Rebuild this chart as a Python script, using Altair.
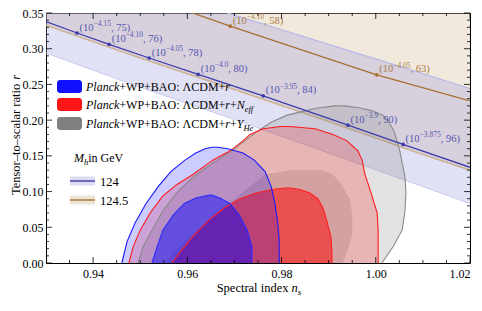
import altair as alt
import pandas as pd

FONT = "Liberation Serif"

# ---------------- data ----------------
x_major = [0.94, 0.96, 0.98, 1.00, 1.02]
x_minor = [0.935, 0.945, 0.95, 0.955, 0.965, 0.97, 0.975, 0.985, 0.99, 0.995, 1.005, 1.01, 1.015]
y_major = [0.00, 0.05, 0.10, 0.15, 0.20, 0.25, 0.30, 0.35]
y_minor = [0.01, 0.02, 0.03, 0.04, 0.06, 0.07, 0.08, 0.09, 0.11, 0.12, 0.13, 0.14,
           0.16, 0.17, 0.18, 0.19, 0.21, 0.22, 0.23, 0.24, 0.26, 0.27, 0.28, 0.29,
           0.31, 0.32, 0.33, 0.34]

# Higgs-inflation bands
band_ns = [0.93, 0.95, 0.97, 0.99, 1.01, 1.02]
band124_lo = [0.294, 0.246, 0.201, 0.154, 0.107, 0.083]
band124_hi = [0.430, 0.389, 0.347, 0.306, 0.265, 0.244]
band1245_lo = [0.333, 0.287, 0.243, 0.198, 0.152, 0.130]
band1245_hi = [0.480, 0.460, 0.440, 0.420, 0.400, 0.390]

# Higgs-inflation lines
blue_line_ns = [0.93, 0.9366, 0.9434, 0.9519, 0.9623, 0.9761, 0.9941, 1.0058, 1.02]
blue_line_r = [0.338, 0.322, 0.306, 0.287, 0.264, 0.234, 0.193, 0.166, 0.134]
blue_pt_ns = [0.9366, 0.9434, 0.9519, 0.9623, 0.9761, 0.9941, 1.0058]
blue_pt_r = [0.322, 0.306, 0.287, 0.264, 0.234, 0.193, 0.166]
blue_pt_exp = ["\u22124.15", "\u22124.10", "\u22124.05", "\u22124.0", "\u22123.95", "\u22123.9", "\u22123.875"]
blue_pt_mass = [75, 76, 78, 80, 84, 90, 96]

brown_line_ns = [0.959, 0.9691, 1.0002, 1.02]
brown_line_r = [0.355, 0.3315, 0.2635, 0.227]
brown_pt_ns = [0.9691, 1.0002]
brown_pt_r = [0.3315, 0.2635]
brown_pt_exp = ["\u22124.10", "\u22124.05"]
brown_pt_mass = [58, 63]

# Planck contours (r level, left ns, right ns)
b95_r = [0, 0.030, 0.056, 0.083, 0.107, 0.128, 0.144, 0.154, 0.160, 0.162]
b95_xl = [0.9461, 0.9472, 0.9489, 0.9512, 0.9538, 0.9565, 0.9595, 0.9618, 0.9638, 0.9652]
b95_xr = [0.9795, 0.9795, 0.9792, 0.9786, 0.9778, 0.9765, 0.9742, 0.9718, 0.9686, 0.9665]

b68_r = [0, 0.023, 0.046, 0.067, 0.083, 0.091, 0.095]
b68_xl = [0.9525, 0.9536, 0.9548, 0.9570, 0.9593, 0.9618, 0.9648]
b68_xr = [0.9737, 0.9737, 0.9727, 0.9710, 0.9691, 0.9669, 0.9652]

r95_r = [0, 0.023, 0.046, 0.070, 0.094, 0.110, 0.124, 0.144, 0.157, 0.171, 0.180, 0.188, 0.191]
r95_xl = [0.9476, 0.9485, 0.9500, 0.9521, 0.9548, 0.9578, 0.9612, 0.9654, 0.9691, 0.9718, 0.9733, 0.9761, 0.9797]
r95_xr = [1.0005, 1.0005, 1.0005, 1.0003, 0.9992, 0.9984, 0.9977, 0.9971, 0.9962, 0.9939, 0.9909, 0.9871, 0.9818]

r68_r = [0, 0.013, 0.036, 0.059, 0.077, 0.090, 0.098, 0.103, 0.105]
r68_xl = [0.9567, 0.9582, 0.9610, 0.9644, 0.9678, 0.9712, 0.9746, 0.9780, 0.9807]
r68_xr = [0.9907, 0.9907, 0.9905, 0.9896, 0.9888, 0.9877, 0.9860, 0.9839, 0.9818]

g95_r = [0, 0.023, 0.046, 0.073, 0.099, 0.120, 0.140, 0.157, 0.166, 0.184, 0.197, 0.207, 0.213, 0.217, 0.220]
g95_xl = [0.9495, 0.9506, 0.9525, 0.9548, 0.9578, 0.9612, 0.9654, 0.9695, 0.9712, 0.9748, 0.9778, 0.9812, 0.9850, 0.9877, 0.9913]
g95_xr = [1.0013, 1.0037, 1.0056, 1.0062, 1.0064, 1.0062, 1.0056, 1.0051, 1.0047, 1.0039, 1.0028, 1.0015, 0.9992, 0.9967, 0.9935]

g68_r = [0, 0.019, 0.040, 0.067, 0.090, 0.113, 0.124, 0.130]
g68_xl = [0.9553, 0.9576, 0.9610, 0.9654, 0.9701, 0.9744, 0.9765, 0.9818]
g68_xr = [0.9930, 0.9941, 0.9950, 0.9950, 0.9945, 0.9924, 0.9909, 0.9888]

legend_rows = [
    [("Planck", "italic", 12, 0), ("+WP+BAO: \u039bCDM+", "normal", 12, 0), ("r", "italic", 12, 0)],
    [("Planck", "italic", 12, 0), ("+WP+BAO: \u039bCDM+", "normal", 12, 0), ("r", "italic", 12, 0),
     ("+", "normal", 12, 0), ("N", "italic", 12, 0), ("eff", "italic", 8.5, 3)],
    [("Planck", "italic", 12, 0), ("+WP+BAO: \u039bCDM+", "normal", 12, 0), ("r", "italic", 12, 0),
     ("+", "normal", 12, 0), ("Y", "italic", 12, 0), ("He", "italic", 8.5, 3)],
]
legend_colors = ["#1010ff", "#ff1515", "#808080"]
mh_labels = ["124", "124.5"]

# ---------------- helpers ----------------
W = 424
H = 250
W_REG = {" ": 250, "(": 333, ")": 333, ",": 250, ".": 250, ":": 278, "+": 564, "\u2212": 564,
         "\u2013": 500, "A": 722, "B": 667, "C": 667, "D": 722, "G": 722, "M": 889, "O": 722,
         "P": 556, "S": 556, "T": 611, "V": 722, "W": 944, "\u039b": 722, "a": 444, "c": 444,
         "d": 500, "e": 444, "i": 278, "l": 278, "n": 500, "o": 500, "p": 500, "r": 333,
         "s": 389, "t": 278, "x": 500}
W_IT = {"P": 611, "l": 278, "a": 500, "n": 500, "c": 444, "k": 444, "r": 389, "N": 667,
        "Y": 556, "H": 722, "e": 444, "f": 278, "M": 833, "h": 500, "s": 389}


def tw(s, size, style):
    tab = W_IT if style == "italic" else W_REG
    return sum(tab.get(ch, 500) for ch in s) * size / 1000.0


XS = alt.Scale(domain=[0.93, 1.02], nice=False, zero=False)
YS = alt.Scale(domain=[0.0, 0.35], nice=False, zero=False)
X_AX = alt.Axis(values=x_major, format=".2f", labelFont=FONT, labelFontSize=12, labelColor="black",
                ticks=False, tickSize=0, domain=False, grid=False, labelPadding=5,
                labelFlush=True, labelOverlap=False, title=None)
Y_AX = alt.Axis(values=y_major, format=".2f", labelFont=FONT, labelFontSize=12, labelColor="black",
                ticks=False, tickSize=0, domain=False, grid=False, labelPadding=3,
                labelFlush=False, labelOverlap=False, title=None)


def xq(f):
    return alt.X(f, type="quantitative", scale=XS, axis=X_AX)


def yq(f):
    return alt.Y(f, type="quantitative", scale=YS, axis=Y_AX)


ONE = pd.DataFrame({"a": [0]})


def ptext(txt, px, py, size=11, style="normal", color="black", angle=0):
    return alt.Chart(pd.DataFrame({"t": [txt]})).mark_text(
        align="left", baseline="alphabetic", font=FONT, fontSize=size, fontStyle=style,
        color=color, angle=angle
    ).encode(x=alt.value(px), y=alt.value(py), text="t:N")


def rich(pieces, x0, y0, color="black"):
    out = []
    x = x0
    for txt, style, size, dy in pieces:
        out.append(ptext(txt, x, y0 + dy, size, style, color))
        x += tw(txt, size, style)
    return out


layers = []

# Higgs bands
bdf = pd.DataFrame({"ns": band_ns, "lo": band124_lo, "hi": band124_hi,
                    "lo2": band1245_lo, "hi2": band1245_hi})
layers.append(alt.Chart(bdf).mark_area(color="#d9bf9f", opacity=0.35, clip=True).encode(
    x=xq("ns"), y=yq("lo2"), y2=alt.Y2("hi2")))
layers.append(alt.Chart(bdf).mark_area(color="#9a9ade", opacity=0.3, clip=True).encode(
    x=xq("ns"), y=yq("lo"), y2=alt.Y2("hi")))
layers.append(alt.Chart(bdf).mark_line(color="#b9b9e8", strokeWidth=1.3, clip=True).encode(
    x=xq("ns"), y=yq("hi")))
layers.append(alt.Chart(bdf).mark_line(color="#c9c9ee", strokeWidth=1.0, clip=True).encode(
    x=xq("ns"), y=yq("lo")))
layers.append(alt.Chart(bdf).mark_line(color="#cdb494", strokeWidth=1.6, clip=True).encode(
    x=xq("ns"), y=yq("lo2")))

# contours
contours = {
    "g95": (g95_r, g95_xl, g95_xr, "#808080", 0.22, "#8a8a8a"),
    "g68": (g68_r, g68_xl, g68_xr, "#808080", 0.25, None),
    "r95": (r95_r, r95_xl, r95_xr, "#ff0000", 0.20, "#ff1a1a"),
    "r68": (r68_r, r68_xl, r68_xr, "#ff0000", 0.50, "#ff2020"),
    "b95": (b95_r, b95_xl, b95_xr, "#0000ff", 0.20, "#1a1aff"),
    "b68": (b68_r, b68_xl, b68_xr, "#0000ff", 0.45, "#2a2aff"),
}
for key, (rr, xl, xr, col, op, _) in contours.items():
    cdf = pd.DataFrame({"r": rr, "xl": xl, "xr": xr})
    layers.append(alt.Chart(cdf).mark_area(orient="horizontal", color=col, opacity=op).encode(
        y=yq("r"), x=xq("xl"), x2=alt.X2("xr")))
for key, (rr, xl, xr, col, op, lc) in contours.items():
    if lc is None:
        continue
    pts_x = list(xl) + list(reversed(xr))
    pts_y = list(rr) + list(reversed(rr))
    odf = pd.DataFrame({"ns": pts_x, "r": pts_y, "i": list(range(len(pts_x)))})
    layers.append(alt.Chart(odf).mark_line(color=lc, strokeWidth=1.1).encode(
        x=xq("ns"), y=yq("r"), order="i:Q"))

# Higgs lines and points
bl = pd.DataFrame({"ns": blue_line_ns, "r": blue_line_r})
layers.append(alt.Chart(bl).mark_line(color="#3c3caa", strokeWidth=1.3, clip=True).encode(
    x=xq("ns"), y=yq("r")))
br = pd.DataFrame({"ns": brown_line_ns, "r": brown_line_r})
layers.append(alt.Chart(br).mark_line(color="#a8702f", strokeWidth=1.3, clip=True).encode(
    x=xq("ns"), y=yq("r")))
bp = pd.DataFrame({"ns": blue_pt_ns, "r": blue_pt_r})
layers.append(alt.Chart(bp).mark_circle(color="#3c3caa", size=14, opacity=1).encode(
    x=xq("ns"), y=yq("r")))
brp = pd.DataFrame({"ns": brown_pt_ns, "r": brown_pt_r})
layers.append(alt.Chart(brp).mark_circle(color="#a8702f", size=14, opacity=1).encode(
    x=xq("ns"), y=yq("r")))


def point_labels(nss, rs, exps, masses, color):
    out = []
    for n, r, e, m in zip(nss, rs, exps, masses):
        pieces = [("(10", 10.5, 0), (e, 7.5, -4.5), (", %d)" % m, 10.5, 0)]
        dx = 2.5
        for txt, size, dy in pieces:
            d = pd.DataFrame({"ns": [n], "r": [r], "t": [txt]})
            out.append(alt.Chart(d).mark_text(
                align="left", baseline="alphabetic", font=FONT, fontSize=size, color=color,
                dx=dx, dy=-2.5 + dy).encode(x=xq("ns"), y=yq("r"), text="t:N"))
            dx += tw(txt, size, "normal")
    return out


layers += point_labels(blue_pt_ns, blue_pt_r, blue_pt_exp, blue_pt_mass, "#5555b0")
layers += point_labels(brown_pt_ns, brown_pt_r, brown_pt_exp, brown_pt_mass, "#a87a45")

# legend (models)
row_y = [78, 96, 115]
for row, col, yb in zip(legend_rows, legend_colors, row_y):
    layers.append(alt.Chart(ONE).mark_rect(color=col, cornerRadius=3).encode(
        x=alt.value(11), x2=alt.value(36), y=alt.value(yb - 11), y2=alt.value(yb + 2)))
    layers += rich(row, 40, yb)

# legend (Higgs mass)
layers += rich([("M", "italic", 12, 0), ("h", "italic", 8.5, 3), ("  in GeV", "normal", 12, 0)], 28, 149)
for yl, fillc, linec, lab in [(168, "#dcdcf2", "#3c3caa", mh_labels[0]), (187, "#ece2d6", "#a8702f", mh_labels[1])]:
    layers.append(alt.Chart(ONE).mark_rect(color=fillc).encode(
        x=alt.value(24), x2=alt.value(49), y=alt.value(yl - 4.5), y2=alt.value(yl + 4.5)))
    layers.append(alt.Chart(ONE).mark_rule(color=linec, strokeWidth=1.4).encode(
        x=alt.value(24), x2=alt.value(49), y=alt.value(yl)))
    layers.append(ptext(lab, 54, yl + 4.5, 12.5))

# frame ticks (inward, all four sides)
for vals, ln in [(x_major, 6), (x_minor, 3)]:
    d = pd.DataFrame({"v": vals})
    layers.append(alt.Chart(d).mark_rule(color="black", strokeWidth=0.8).encode(
        x=xq("v"), y=alt.value(H), y2=alt.value(H - ln)))
    layers.append(alt.Chart(d).mark_rule(color="black", strokeWidth=0.8).encode(
        x=xq("v"), y=alt.value(0), y2=alt.value(ln)))
for vals, ln in [(y_major, 6), (y_minor, 3)]:
    d = pd.DataFrame({"v": vals})
    layers.append(alt.Chart(d).mark_rule(color="black", strokeWidth=0.8).encode(
        y=yq("v"), x=alt.value(0), x2=alt.value(ln)))
    layers.append(alt.Chart(d).mark_rule(color="black", strokeWidth=0.8).encode(
        y=yq("v"), x=alt.value(W), x2=alt.value(W - ln)))

# axis titles
xt = [("Spectral index ", "normal", 12.5, 0), ("n", "italic", 12.5, 0), ("s", "italic", 9, 2.5)]
xt_w = sum(tw(t, s, st) for t, st, s, _ in xt)
layers += rich(xt, 213 - xt_w / 2, 279)

yt = [("Tensor\u2013to\u2013scalar ratio ", "normal", 12.5), ("r", "italic", 12.5)]
yt_w = sum(tw(t, s, st) for t, st, s in yt)
ystart = 122 + yt_w / 2
for t, st, s in yt:
    layers.append(ptext(t, -26, ystart, s, st, angle=270))
    ystart -= tw(t, s, st)

chart = alt.layer(*layers).properties(
    width=W, height=H, autosize="none",
    padding={"left": 38, "top": 5, "right": 4, "bottom": 35},
).configure_view(stroke="black", strokeWidth=1)

chart.save("out.html", embed_options={"renderer": "svg", "actions": False})
